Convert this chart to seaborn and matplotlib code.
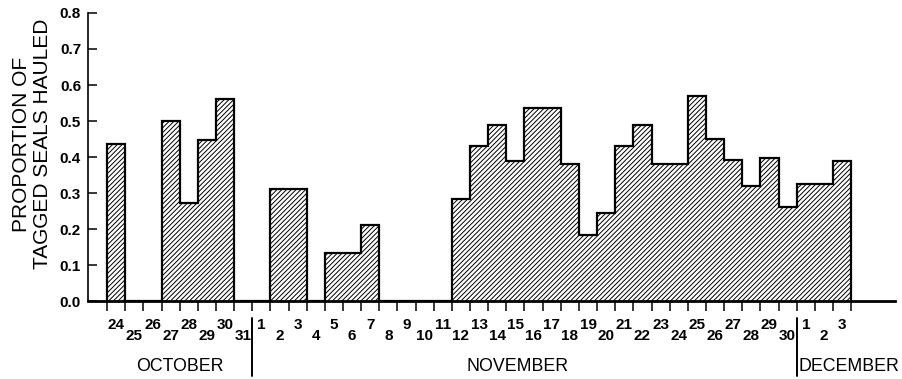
import numpy as np
import pandas as pd
import matplotlib
matplotlib.use("Agg")
import matplotlib.pyplot as plt
import matplotlib.transforms as mtransforms
import seaborn as sns

# days shown on the axis, Oct 24 - Dec 3
oct_days = [24, 25, 26, 27, 28, 29, 30, 31]
nov_days = list(range(1, 31))
dec_days = [1, 2, 3]

# proportion hauled per day (0 = no data / no bar)
oct_vals = [0.435, 0.0, 0.0, 0.50, 0.273, 0.448, 0.562, 0.0]
nov_vals = [0.0, 0.31, 0.31, 0.0, 0.134, 0.134, 0.212, 0.0, 0.0, 0.0, 0.0,
            0.284, 0.43, 0.49, 0.39, 0.535, 0.535, 0.38, 0.183, 0.245,
            0.43, 0.49, 0.38, 0.38, 0.57, 0.45, 0.392, 0.32, 0.397, 0.26]
dec_vals = [0.325, 0.325, 0.39]

months = ["OCTOBER", "NOVEMBER", "DECEMBER"]
yticks = [0.0, 0.1, 0.2, 0.3, 0.4, 0.5, 0.6, 0.7, 0.8]

labels = [str(d) for d in oct_days + nov_days + dec_days]
values = oct_vals + nov_vals + dec_vals
df = pd.DataFrame({"idx": range(len(values)), "value": values, "day": labels})

sns.set_theme(style="white")
plt.rcParams["font.family"] = ["Liberation Sans", "DejaVu Sans"]
plt.rcParams["hatch.linewidth"] = 0.7
plt.rcParams["hatch.color"] = "black"
plt.rcParams["text.color"] = "black"
plt.rcParams["axes.labelcolor"] = "black"

fig = plt.figure(figsize=(9.03, 3.79), dpi=100)
ax = fig.add_axes([0.0975, 0.2058, 0.8937, 0.7599])

sns.barplot(data=df, x="idx", y="value", width=1.0, color="white",
            edgecolor="black", linewidth=0, hatch="///////", ax=ax)

# outline of the stepped histogram
edges = np.arange(len(values) + 1) - 0.5
ax.stairs(values, edges, baseline=0, color="black", linewidth=1.6)

n = len(values)
ax.set_xlim(-1.55, n - 0.5 + 2.42)
ax.set_ylim(0, 0.8)

for s in ["top", "right"]:
    ax.spines[s].set_visible(False)
ax.spines["left"].set_linewidth(1.2)
ax.spines["bottom"].set_linewidth(2.0)
ax.spines["left"].set_color("black")
ax.spines["bottom"].set_color("black")

ax.set_yticks(yticks)
ax.set_yticklabels([f"{v:.1f}" for v in yticks], fontweight="bold", fontsize=11)
ax.tick_params(axis="y", direction="in", length=6.5, width=1.1, pad=5,
               colors="black", left=True)

ax.set_xticks(edges)
ax.set_xticklabels([])
ax.tick_params(axis="x", direction="out", length=7, width=1.1, colors="black",
               bottom=True)
ax.set_xlabel("")

trans = mtransforms.blended_transform_factory(ax.transData, ax.transAxes)
for i, lab in enumerate(labels):
    y = -0.083 if i % 2 == 0 else -0.122
    ax.text(i, y, lab, transform=trans, ha="center", va="center",
            fontsize=11, fontweight="bold")

# month names and dividers
n_oct, n_nov = len(oct_days), len(nov_days)
ax.text((n_oct - 1) / 2, -0.229, months[0], transform=trans, ha="center",
        va="center", fontsize=12.8)
ax.text(n_oct + (n_nov - 1) / 2 - 0.4, -0.229, months[1], transform=trans,
        ha="center", va="center", fontsize=12.8)
ax.text(n_oct + n_nov - 0.5 + 0.12, -0.229, months[2], transform=trans,
        ha="left", va="center", fontsize=12.8)
for b in [n_oct - 0.5, n_oct + n_nov - 0.5]:
    ax.plot([b, b], [-0.06, -0.26], transform=trans, color="black",
            linewidth=1.4, clip_on=False)

ax.set_ylabel("PROPORTION OF\nTAGGED SEALS HAULED", fontsize=15,
              linespacing=1.15, va="center")
ax.yaxis.set_label_coords(-0.069, 0.545)

fig.savefig("out.png", dpi=100, facecolor="white")
